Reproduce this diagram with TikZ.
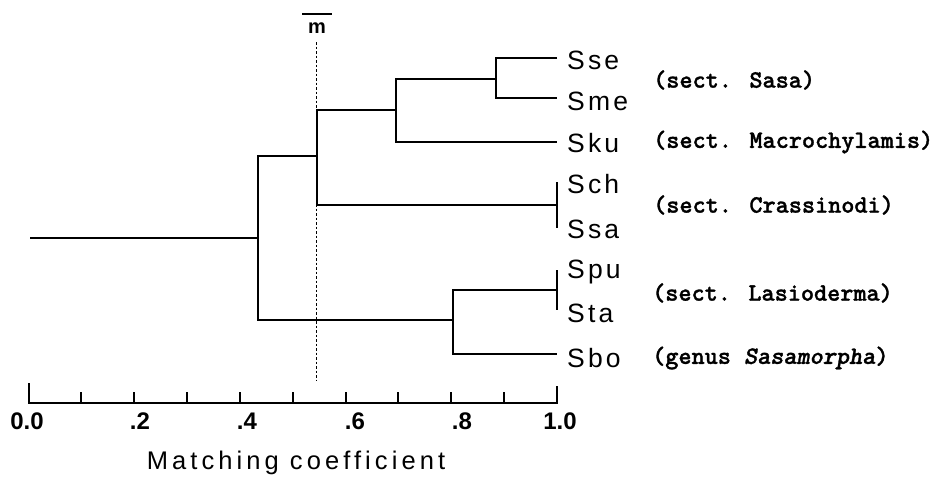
\documentclass[tikz,border=0pt]{standalone}
\usepackage{fontspec}
\setmainfont{Liberation Serif}
\newfontfamily\numfont{Liberation Sans}
\newfontfamily\leaffont[LetterSpace=12]{Liberation Sans}
\newfontfamily\titlefont[LetterSpace=16]{Liberation Sans}
\newfontfamily\sectfont{lmmonolt10-bold.otf}[ItalicFont=lmmonolt10-boldoblique.otf,FakeBold=1.2]
\begin{document}
\begin{tikzpicture}[x=1pt,y=-1pt,
  br/.style={line width=2pt},
  ax/.style={line width=2pt},
  leaf/.style={anchor=west,inner sep=0pt,font=\leaffont\fontsize{26.5}{28}\selectfont},
  sect/.style={anchor=west,inner sep=0pt,font=\sectfont\fontsize{25}{27}\selectfont},
  num/.style={inner sep=0pt,font=\numfont\bfseries\fontsize{24}{26}\selectfont},
  mline/.style={line width=0.9pt,dash pattern=on 2.5pt off 2pt}]
\useasboundingbox (0,0) rectangle (935,479);
% internal nodes
\coordinate (root0) at (30,238);
\coordinate (r) at (258,238);
\coordinate (a) at (317,156);
\coordinate (b) at (396,110);
\coordinate (c) at (496,79);
\coordinate (d) at (453,320);
% leaf tips
\coordinate (tSse) at (557,58);
\coordinate (tSme) at (557,98);
\coordinate (tSku) at (557,142);
\coordinate (tCS) at (557,205);
\coordinate (tCStop) at (557,182);
\coordinate (tCSbot) at (557,228);
\coordinate (tPT) at (557,290);
\coordinate (tPTtop) at (557,270);
\coordinate (tPTbot) at (557,310);
\coordinate (tSbo) at (557,354);
% tree
\draw[br] (root0) -- (r);
\draw[br] (a) -| (r) |- (d);
\draw[br] (b) -| (a) |- (tCS);
\draw[br] (c) -| (b) |- (tSku);
\draw[br] (tSse) -| (c) |- (tSme);
\draw[br] (tPT) -| (d) |- (tSbo);
\draw[br] (tCStop) -- (tCSbot);
\draw[br] (tPTtop) -- (tPTbot);
% leaf labels
\node[leaf] (Sse) at (567,60) {Sse};
\node[leaf] (Sme) at (567,101) {Sme};
\node[leaf] (Sku) at (567,143) {Sku};
\node[leaf] (Sch) at (567,184) {Sch};
\node[leaf] (Ssa) at (567,229) {Ssa};
\node[leaf] (Spu) at (567,272) {Spu};
\node[leaf] (Sta) at (567,313) {Sta};
\node[leaf] (Sbo) at (567,358) {Sbo};
% section labels
\node[sect] (s1) at (653,80) {(sect. Sasa)};
\node[sect] (s2) at (653,142) {(sect. Macrochylamis)};
\node[sect] (s3) at (653,205) {(sect. Crassinodi)};
\node[sect] (s4) at (652,293) {(sect. Lasioderma)};
\node[sect] (s5) at (652,358) {(genus \textit{Sasamorpha})};
% m bar
\node[inner sep=0pt,font=\numfont\bfseries\fontsize{20}{21}\selectfont] (m) at (317,28) {m};
\draw[line width=1.2pt] (302,14) -- (332,14);
\coordinate (mtop) at (316,42);
\coordinate (mbot) at (316,380);
\draw[mline] (mtop) -- (mbot);
% axis
\coordinate (ax0) at (28.5,402.5);
\coordinate (ax1) at (557,402.5);
\draw[ax] (28.5,383) -- (ax0) -- (ax1) -- (557,386);
\foreach \i in {1,...,9} {
  \draw[ax] (28.5+52.85*\i,392) -- (28.5+52.85*\i,402.5);
}
\node[num] (l0) at (27,421) {0.0};
\node[num] (l2) at (140,421) {.2};
\node[num] (l4) at (247,421) {.4};
\node[num] (l6) at (355,421) {.6};
\node[num] (l8) at (462,421) {.8};
\node[num] (l10) at (560,421) {1.0};
\node[inner sep=0pt,font=\titlefont\fontsize{25.5}{27}\selectfont] (title) at (296,463) {Matching coefficient};
\end{tikzpicture}
\end{document}
